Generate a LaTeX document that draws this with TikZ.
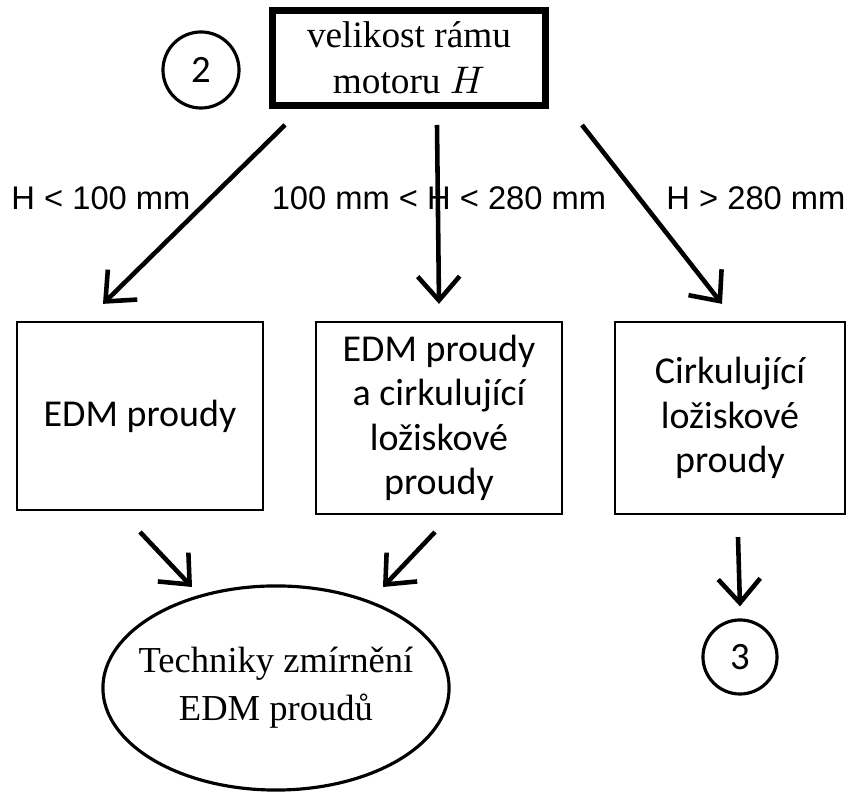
\documentclass[tikz,border=0pt]{standalone}
\usepackage{fontspec}
\setmainfont{Liberation Serif}
\newfontfamily\labelfont{Liberation Sans}
\newfontfamily\boxfont{Carlito}
\usetikzlibrary{positioning, shapes.geometric, arrows.meta}

\begin{document}
\begin{tikzpicture}[
  x=0.01cm, y=-0.01cm,
  font=\fontsize{10.6}{13}\selectfont,
  casebox/.style={draw, line width=0.6pt, minimum width=2.46cm, minimum height=1.88cm,
    align=center, inner sep=2pt, font=\boxfont\fontsize{10.8}{12.6}\selectfont},
  numcirc/.style={draw, circle, line width=0.9pt, inner sep=0pt,
    font=\boxfont\fontsize{11}{13}\selectfont},
  cond/.style={font=\labelfont\fontsize{9.3}{11}\selectfont},
  flow/.style={line width=1.3pt, -{Straight Barb[length=2.4mm, width=4.2mm, line width=1.3pt]}},
]
\useasboundingbox (0,0) rectangle (857,798);

\node[draw, line width=2pt, minimum width=2.72cm, minimum height=0.92cm, align=center] (frame)
    at (409,58) {velikost rámu \\ motoru $H$};
\node[numcirc, minimum size=0.76cm] (two) at (201,70) {2};

\node[casebox] (edm) at (140,416) {EDM proudy};
\node[casebox, minimum height=1.92cm] (both) at (439,418) {EDM proudy \\ a cirkulující \\ ložiskové \\ proudy};
\node[casebox, minimum width=2.29cm, minimum height=1.92cm] (circ) at (730,418) {Cirkulující \\ ložiskové \\ proudy};

\node[cond] (small) at (101,198) {H < 100 mm};
\node[cond] (mid) at (439,198) {100 mm < H < 280 mm};
\node[cond] (large) at (756,198) {H > 280 mm};

\node[draw, ellipse, line width=0.9pt, minimum width=3.46cm, minimum height=2.04cm,
    inner xsep=-0.5cm, inner ysep=0pt, align=center, font=\fontsize{10.4}{13.6}\selectfont] (mitig)
    at (276,688) {Techniky zmírnění \\ EDM proudů};
\node[numcirc, minimum size=0.74cm] (three) at (740,657) {3};

\coordinate (s1) at (285,125);
\coordinate (s2) at (437,125);
\coordinate (s3) at (582,125);
\draw[flow] (s1) -- ([xshift=-0.37cm, yshift=1.7mm]edm.north);
\draw[flow] (s2) -- ([yshift=1.7mm]both.north);
\draw[flow] (s3) -- ([xshift=-0.08cm, yshift=1.7mm]circ.north);

\coordinate (e1) at (140,532);
\coordinate (e2) at (435,532);
\draw[flow] (e1) -- (192,587);
\draw[flow] (e2) -- (383,587);
\draw[flow] ([xshift=0.08cm, yshift=-2.2mm]circ.south) -- ([yshift=1.2mm]three.north);
\end{tikzpicture}
\end{document}
